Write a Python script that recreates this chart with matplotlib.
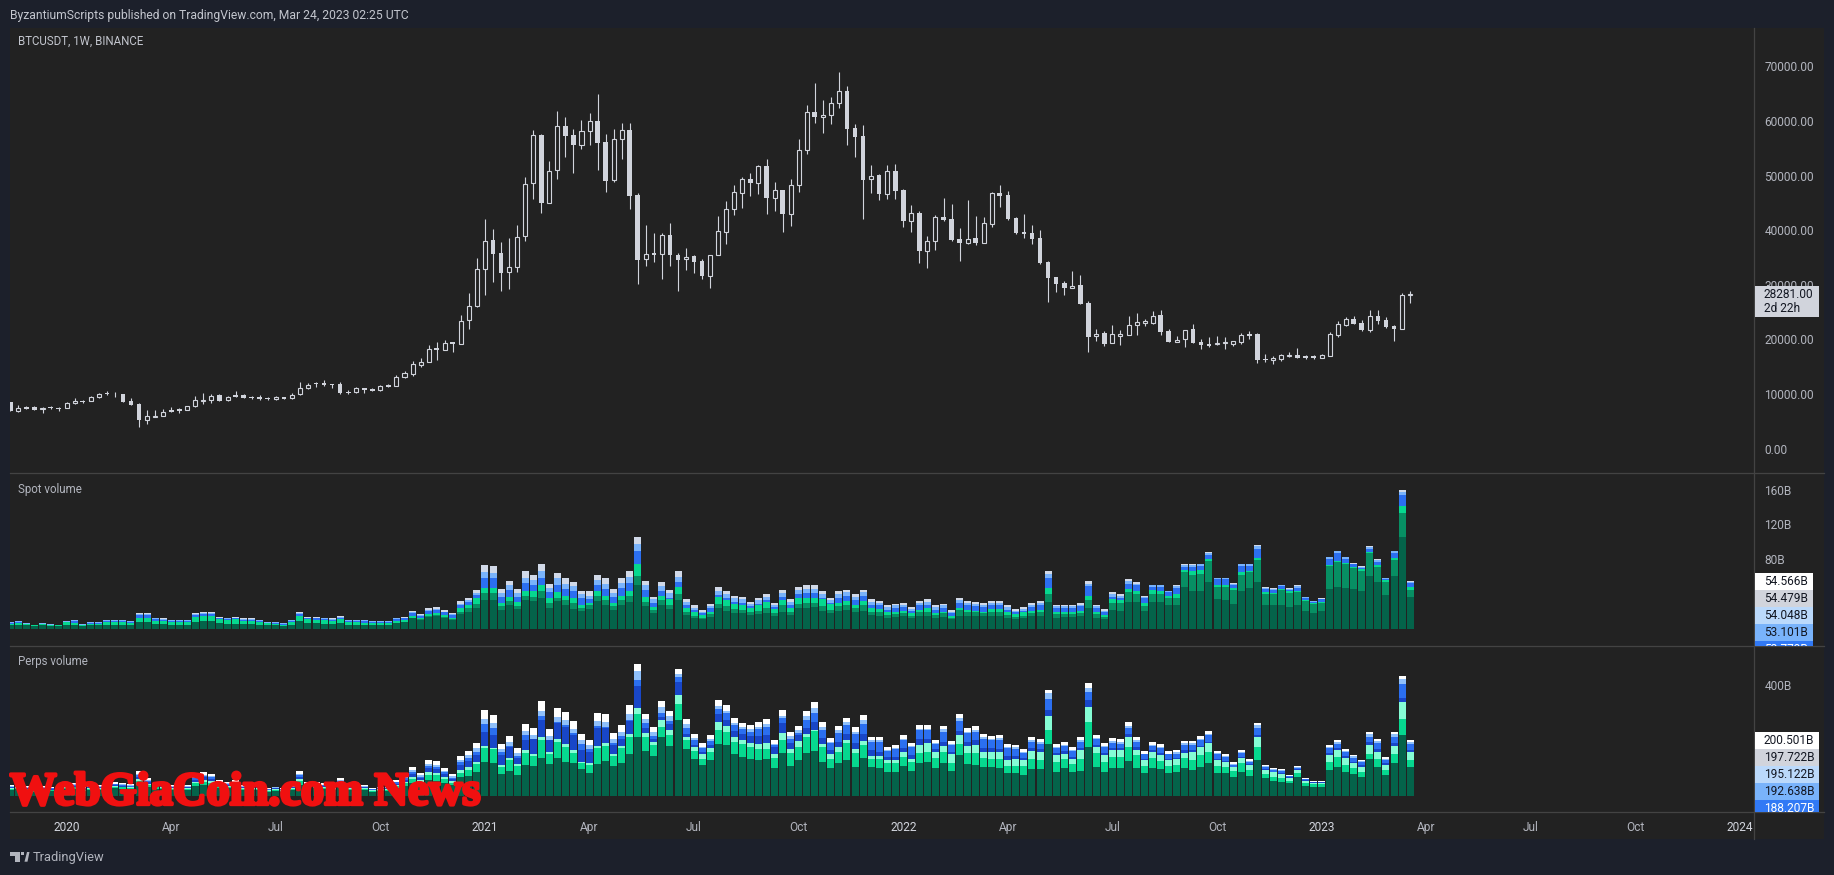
#!/usr/bin/env python3
"""BTCUSDT weekly candles with stacked spot and perps volume panels."""
import numpy as np
import matplotlib; matplotlib.use('Agg')
import matplotlib.pyplot as plt
from matplotlib.patches import Rectangle, Circle, Polygon
from matplotlib.transforms import Bbox
import matplotlib.patheffects as pe

W, H = 1834, 875
PAGE = '#1c202b'; PANEL = '#222222'; LINE = '#434343'; TXT = '#b2b5be'; CANDLE = '#d1d4dc'
plt.rcParams.update({'font.family': 'Roboto', 'font.size': 8.6})

price_open = [
    8553,6965,7637,7576,7210,7576,7454,7393,8309,8736,
    8675,9408,10200,10080,10017,8736,8125,5318,5867,5928,
    7088,7210,7149,7759,8797,8858,9774,8858,9774,9774,
    9469,9469,9285,9041,9408,9225,9956,11056,11972,12033,
    11788,11788,10384,10323,11056,10873,10690,11666,11544,13071,
    13742,15392,15940,18382,18138,19481,19236,23510,26197,32973,
    38162,35781,32301,33217,38895,48601,57393,45061,50982,59102,
    57393,55683,58125,59957,56110,49151,56660,58308,46404,34682,
    35781,35720,39079,35537,34682,35232,34377,31691,35415,39749,
    43840,46892,49334,48723,51715,45976,47320,43046,48235,54645,
    61605,60812,61178,63254,65451,58675,57210,49334,50067,46709,
    50799,47320,41764,43107,36270,37979,42374,42008,38345,37735,
    38528,37735,41215,46770,46404,42191,39627,39444,38528,34194,
    31385,30286,29493,29920,26624,20580,21129,19297,20701,20762,
    22594,23083,23083,24426,21495,19603,20030,21862,19481,19114,
    19114,19297,19176,19603,21007,21007,16428,16306,16489,17038,
    17099,16917,16917,16672,17038,20885,22716,23754,22960,21740,
    24303,23510,22473,21984,28150]
price_high = [
    8553,7972,7759,7759,7576,7820,7698,8553,9285,8980,
    9652,10200,10569,10446,10017,9225,8370,7088,7088,7271,
    7637,7454,7759,9652,10262,9956,9956,9712,10569,10017,
    9712,9835,9408,9591,9408,10200,12216,11972,12216,12582,
    11788,12216,10690,11301,11056,11056,11605,11850,13498,14230,
    16001,16551,18993,19543,19908,19481,24487,28516,34926,42069,
    40237,37857,38590,40970,49762,58369,57637,52692,61849,60750,
    58553,60201,61483,64963,57637,58553,59652,59652,46831,40970,
    39505,39505,41337,35903,36758,35415,34743,35415,42619,45366,
    48235,49762,50494,51959,53058,48846,47320,49395,56721,62948,
    66978,63864,64413,68992,66428,59469,59285,51959,50311,51959,
    52143,47564,44633,43534,38956,42801,45915,44816,40421,45549,
    42619,42436,47014,48296,47197,42436,42985,40970,40055,34377,
    31385,30714,32606,31813,27051,21923,21556,22594,21740,24304,
    24854,23754,25158,25402,21862,20641,21800,22777,20030,20457,
    20641,20519,19664,21129,21556,21129,17344,16977,17283,17710,
    18443,17161,17161,17283,21312,23327,24059,24303,23571,25403,
    25403,24120,22655,28516,28882]
price_low = [
    6965,6782,7271,7088,6599,7332,6965,7393,8248,8431,
    8675,9347,9895,9530,8553,8064,4035,4584,5867,5928,
    6782,6599,7027,7698,8186,8431,8797,8797,9469,9285,
    9102,8980,8980,8980,9163,9163,9895,10995,11301,11483,
    11056,10080,10017,10262,10201,10628,10628,11301,11544,13010,
    13376,15024,15940,16306,18138,17771,19236,21984,25952,28150,
    30592,28943,29249,32423,38101,45793,43229,45061,49456,53424,
    50555,54951,55683,51105,47075,48907,53119,43962,30225,33522,
    34255,31141,33522,28943,32790,32240,31141,29493,35415,37552,
    42863,44145,46343,46648,43046,43595,39749,40848,47075,54035,
    59713,57881,59530,62460,55683,53485,42130,46892,45610,45793,
    45732,40665,39749,34072,33156,36453,41703,38040,34438,37552,
    37368,37735,40665,44328,41947,39322,38651,37552,33888,26929,
    28761,28211,29493,26563,17771,19786,18870,19297,19053,20762,
    20885,22533,22900,20885,19603,19603,18687,19420,18321,18687,
    19053,18321,18870,19176,20152,15757,15879,15573,16062,16733,
    16611,16489,16489,16611,17038,20519,22533,22777,21618,21373,
    22839,22167,19725,21984,26746]
price_close = [
    6965,7391,7332,7149,7515,7393,7332,8309,8675,8614,
    9408,10080,9956,9956,8614,8064,5318,5928,5989,6782,
    6782,6965,7759,8858,8919,9712,8797,9530,9530,9347,
    9285,9163,9041,9408,9163,9895,11056,11727,11788,11727,
    11666,10262,10262,11056,10811,10628,11422,11361,13071,13803,
    15452,15940,18321,18138,19420,19236,23449,26197,32973,38101,
    35720,32240,33217,38834,48541,57393,45061,50921,59041,57332,
    55683,58125,59957,56050,49090,56660,58308,46343,34621,35598,
    35537,39079,35537,34621,35171,34255,31691,35415,39810,43840,
    46953,49334,48662,51715,45976,47320,43046,48235,54645,61605,
    60812,61178,63254,65451,58614,57149,49273,50006,46709,50799,
    47258,41764,43107,36270,37979,42374,41886,38223,37735,38467,
    37674,41276,46770,46343,42130,39566,39383,38467,34072,31324,
    30225,29493,29859,26563,20519,21067,19236,20946,20946,22594,
    23266,23327,24375,21434,19603,19969,21800,19420,18931,18870,
    19420,19481,19664,20762,20701,16245,16306,16611,17099,17222,
    16672,16672,16672,17099,21007,22777,23693,22900,21740,24242,
    23388,22289,21984,28150,28281]

# stacked volume, running tops in billions
spot_dark = [
    4,5,4,3,4,3,3,5,5,3, 4,4,5,5,5,5,8,8,6,6, 5,5,5,8,9,9,7,6,6,6, 6,5,4,4,3,5,9,7,7,6,
    6,7,5,5,5,5,5,5,7,8, 12,10,14,15,13,10,17,20,24,33, 33,22,27,23,33,32,35,24,32,27,
    23,21,23,32,27,22,27,31,50,26, 18,27,23,33,16,13,11,14,24,21, 18,18,16,17,18,15,20,16,24,24,
    25,21,18,21,22,20,21,16,15,13, 14,15,12,15,15,13,14,11,15,15, 15,15,15,15,13,11,13,15,15,31,
    13,14,14,15,24,13,11,22,21,31, 31,21,31,31,28,27,48,44,44,54, 34,33,29,43,47,54,28,27,28,25,
    27,21,18,21,46,48,47,46,44,61,54,39,61,106,37]
spot_mid = [
    4,5,4,3,4,3,3,5,5,3, 4,4,5,5,5,5,8,8,6,6, 5,5,5,8,9,9,7,6,6,6, 6,5,4,4,3,5,9,7,7,6,
    6,7,5,5,5,5,5,5,7,8, 13,11,15,16,14,11,20,24,29,41, 41,26,32,26,38,37,43,30,36,33,
    30,24,27,38,33,26,33,38,61,31, 22,33,27,40,19,15,12,17,29,26, 23,22,19,21,24,18,27,20,29,30,
    30,26,22,26,27,24,27,20,19,16, 17,18,15,19,20,16,18,13,22,19, 19,18,19,19,16,14,15,18,19,40,
    17,17,17,18,33,17,14,30,30,42, 40,26,40,40,36,36,65,62,63,78, 48,48,45,62,65,79,40,40,45,41,
    42,32,29,30,72,77,74,70,67,87,71,54,79,133,45]
spot_bright = [
    6,7,6,4,6,5,4,8,7,5, 6,6,8,8,8,7,13,13,9,9, 8,8,8,14,15,15,11,10,11,9, 9,8,7,6,5,8,15,11,10,10,
    9,11,8,8,7,7,7,7,9,10, 15,12,17,18,16,13,24,28,35,47, 47,30,37,31,44,43,50,35,42,38,
    35,28,30,44,38,30,38,44,75,37, 25,38,34,48,24,20,16,20,37,33, 29,28,24,27,31,23,33,24,35,35,
    35,34,29,30,32,28,32,24,23,19, 20,21,18,22,24,18,20,15,24,22, 21,20,23,23,19,17,19,21,22,47,
    20,20,20,21,38,20,16,34,33,46, 44,30,45,44,38,40,68,66,68,80, 50,50,47,65,67,81,42,41,46,43,
    44,33,30,31,73,78,76,71,69,88,73,56,81,141,48]
spot_blue = [
    7,8,6,4,6,5,4,8,9,5, 7,7,9,9,9,8,16,16,11,10, 9,9,9,16,17,17,12,11,12,10, 10,9,7,7,6,9,17,12,12,11,
    10,13,9,9,9,8,8,8,11,12, 18,15,21,22,19,16,27,31,39,59, 59,37,45,37,53,50,59,42,51,46,
    43,35,34,50,46,37,47,53,90,45, 30,44,36,54,27,22,18,24,39,36, 31,30,26,29,33,25,37,28,40,41,
    41,36,30,36,38,33,38,28,27,22, 24,25,21,27,28,22,24,18,30,27, 26,25,27,27,22,19,21,25,27,59,
    24,24,24,26,49,24,19,37,35,52, 50,35,48,48,42,47,71,71,72,85, 57,57,51,72,72,92,46,45,49,45,
    47,36,31,34,80,87,80,74,70,92,77,57,87,154,53]
spot_light = [
    8,9,7,5,7,6,5,9,10,6, 8,8,10,10,10,9,17,17,12,11, 10,10,10,17,18,18,13,12,13,11, 11,10,8,8,7,10,18,13,13,12,
    11,14,10,10,10,9,9,9,12,13, 19,16,22,23,20,17,29,33,41,65, 64,41,50,41,59,56,67,47,58,52,
    49,40,38,56,52,41,53,60,97,50, 34,49,41,60,31,24,20,26,44,40, 35,34,29,33,37,28,41,31,45,46,
    46,40,33,40,42,37,42,31,30,25, 27,28,23,30,31,25,27,20,33,30, 29,28,30,30,25,21,23,28,30,63,
    26,26,26,28,52,26,21,40,38,55, 52,37,50,50,43,49,73,73,74,87, 58,58,52,74,74,95,47,46,50,46,
    49,37,32,34,82,89,82,75,71,94,79,58,89,157,54]
spot_total = [
    8,9,7,5,7,6,5,9,10,6, 8,8,10,10,10,9,18,18,13,12, 10,10,10,18,20,20,14,13,14,12, 12,10,8,8,7,10,20,14,14,13,
    12,15,10,10,10,9,9,9,13,14, 21,17,24,25,22,18,32,36,45,73, 72,46,55,46,66,62,74,52,64,58,
    54,44,43,62,58,46,59,66,105,55, 37,54,45,66,34,27,22,29,48,44, 38,37,31,36,40,30,45,34,48,50,
    50,43,36,43,45,40,45,34,32,27, 29,30,25,32,34,27,29,22,36,32, 31,30,32,32,27,23,25,30,32,67,
    28,28,28,30,55,28,23,42,40,57, 54,38,51,51,44,50,74,74,75,88, 59,59,53,75,75,96,48,47,51,47,
    50,37,32,35,83,90,83,76,72,95,80,59,90,159,55]

perp_dark = [
    22,25,20,15,20,18,17,24,26,18, 22,22,27,27,26,24,40,32,26,25, 22,22,22,36,40,36,30,28,30,22, 22,22,15,19,15,22,40,28,28,25,
    22,32,22,22,22,15,19,19,30,36, 46,40,56,55,46,38,70,72,88,122, 118,79,90,76,112,109,136,115,136,124,
    118,97,82,114,126,108,118,150,214,163, 144,211,179,274,168,132,112,130,187,183, 153,142,133,130,133,100,154,108,130,154,
    162,124,100,118,130,106,136,103,100,88, 88,108,91,120,124,102,120,90,148,115, 112,103,106,100,82,82,76,97,97,187,
    88,100,88,90,178,106,88,102,102,126, 102,84,102,97,82,88,100,94,106,118, 84,84,70,88,72,130,64,55,52,46,
    67,36,34,34,94,106,88,79,67,132,103,76,118,220,106]
perp_bright = [
    26,30,24,18,24,21,20,29,32,21, 26,26,33,33,32,29,54,40,32,30, 26,26,26,46,52,48,37,34,37,26, 26,26,18,22,18,26,54,34,34,30,
    26,40,26,26,26,18,22,22,37,46, 62,50,76,74,60,48,84,94,114,172, 168,106,130,108,156,144,202,151,196,178,
    156,118,113,172,180,144,172,214,295,214, 184,250,220,331,202,163,132,160,238,230, 196,186,175,168,168,136,202,154,178,214,
    235,175,132,158,190,156,184,132,132,118, 120,139,124,154,160,136,157,120,186,154, 154,136,132,132,108,108,108,133,130,238,
    122,133,115,132,265,154,124,139,139,175, 148,108,136,127,108,112,136,130,148,160, 108,103,91,118,94,175,79,70,64,54,
    82,46,42,42,124,139,112,100,88,151,132,94,151,277,130]
perp_mint = [
    28,32,25,20,25,22,21,31,34,22, 28,28,35,35,34,31,60,45,34,32, 28,28,28,52,58,54,40,36,40,28, 28,28,20,24,20,28,60,36,36,32,
    28,44,28,28,28,20,24,24,40,52, 70,56,85,84,68,54,92,104,124,180, 174,112,136,114,165,152,212,158,206,188,
    164,124,118,180,190,150,180,225,317,226, 196,274,238,364,212,178,151,173,267,252, 214,202,192,187,190,150,228,168,199,223,
    238,187,150,175,202,170,198,145,145,128, 128,158,135,185,190,160,180,150,220,180, 185,158,158,158,130,132,130,162,158,288,
    148,152,135,165,320,175,148,165,165,212, 165,128,158,148,128,132,155,158,175,190, 130,122,103,138,112,212,95,85,80,65,
    95,55,48,48,148,166,138,118,105,185,160,112,180,339,158]
perp_dkblue = [
    31,36,28,22,28,25,23,34,37,25, 31,31,39,39,37,34,70,50,37,36, 31,31,31,59,67,62,45,41,45,31, 31,31,22,27,22,31,70,41,41,36,
    31,50,31,31,31,22,27,27,45,59, 81,65,101,98,79,62,110,125,148,232, 220,148,178,137,202,204,274,202,264,247,
    220,166,160,244,244,185,205,270,396,245, 205,285,260,410,225,185,160,185,295,275, 235,225,215,215,220,175,262,190,220,245,
    265,210,165,195,222,190,225,165,160,140, 140,172,148,205,205,170,195,160,235,195, 200,172,172,170,145,145,138,172,170,310,
    155,162,142,172,345,182,155,172,172,222, 175,135,165,155,135,138,165,165,180,195, 135,126,106,142,116,220,98,88,83,67,
    98,56,49,49,155,172,145,124,110,195,170,118,190,352,165]
perp_blue = [
    34,39,30,24,30,27,25,37,40,27, 34,34,42,42,40,37,76,54,40,39, 34,34,34,64,72,67,49,44,49,34, 34,34,24,29,24,34,76,44,44,39,
    34,54,34,34,34,24,29,29,49,64, 87,70,109,106,85,66,121,136,160,261, 245,158,181,145,218,206,287,202,266,255,
    227,187,170,251,248,191,215,275,418,262, 215,300,272,430,245,200,172,198,315,298, 255,240,232,240,250,182,280,207,228,275,
    300,238,190,228,255,222,258,195,195,162, 168,200,175,236,236,186,230,182,270,226, 232,205,200,203,172,170,155,195,188,350,
    172,180,162,196,376,205,176,192,189,245, 196,150,180,172,150,153,185,184,200,218, 150,140,113,155,124,245,104,94,90,71,
    100,60,50,50,172,189,157,138,121,214,190,130,214,402,188]
perp_light = [
    36,41,32,25,32,29,27,40,43,29, 36,36,45,45,43,40,81,58,43,41, 36,36,36,68,77,72,52,47,52,36, 36,36,25,31,25,36,81,47,47,41,
    36,58,36,36,36,25,31,31,52,68, 94,75,117,113,91,71,130,146,172,279, 262,169,194,156,233,220,308,217,285,273,
    243,201,182,269,266,204,230,294,450,277, 232,320,287,440,258,208,178,205,325,308, 263,248,240,250,260,188,290,215,236,287,
    318,250,196,236,265,232,275,200,200,165, 172,207,180,240,240,190,240,186,280,232, 238,212,205,208,176,175,160,200,193,370,
    177,184,166,202,390,210,181,197,194,254, 202,153,185,178,153,157,190,190,206,225, 155,145,117,160,127,255,108,97,93,73,
    104,62,52,52,178,195,162,143,125,222,197,135,222,420,195]
perp_total = [
    40,46,36,28,36,32,30,44,48,32, 40,40,50,50,48,44,90,64,48,46, 40,40,40,76,86,80,58,52,58,40, 40,40,28,34,28,40,90,52,52,46,
    40,64,40,40,40,28,34,34,58,76, 104,83,130,126,101,79,144,162,191,310, 292,188,216,173,259,245,342,241,317,303,
    270,223,202,299,295,227,256,327,475,295, 248,342,306,457,277,223,191,220,346,328, 281,263,256,266,277,202,310,230,252,306,
    339,266,209,252,281,248,292,212,212,176, 184,220,191,256,256,202,252,198,295,245, 252,223,216,220,187,184,169,212,205,382,
    187,194,176,212,407,220,191,209,205,266, 212,162,194,187,162,166,198,198,216,234, 162,151,122,166,133,263,112,101,97,76,
    108,65,54,54,184,202,169,148,130,230,205,140,230,432,202]

time_ticks = [7,20,33,46,59,72,85,98,111,124,137,150,163,176,189,202,215]
time_labels = ['2020','Apr','Jul','Oct','2021','Apr','Jul','Oct','2022','Apr','Jul','Oct','2023','Apr','Jul','Oct','2024']
price_ticks = [0,10000,20000,30000,40000,50000,60000,70000]
spot_ticks = [80,120,160]
perp_ticks = [400]
spot_last = ['54.566B','54.479B','54.048B','53.101B','52.773B']
perp_last = ['200.501B','197.722B','195.122B','192.638B','188.207B']
last_fill = ['#ffffff','#d1d4dc','#bbd9fb','#79b3fb','#3179f5']
last_ink = ['#131722','#131722','#131722','#131722','#ffffff']

def rect(x0,y0,x1,y1):
    return [x0/W, 1-y1/H, (x1-x0)/W, (y1-y0)/H]
def fx(x): return x/W
def fy(y): return 1-y/H

fig = plt.figure(figsize=(W/100,H/100), dpi=100, facecolor=PAGE)
fig.add_artist(Rectangle((fx(10),fy(839)), (1824-10)/W, (839-28)/H, transform=fig.transFigure, fc=PANEL, ec='none', zorder=-5))

XL = (-0.04, 216.75)
ax_p = fig.add_axes(rect(10,28,1754,473), facecolor=PANEL)
ax_s = fig.add_axes(rect(10,473,1754,646), facecolor=PANEL)
ax_v = fig.add_axes(rect(10,646,1754,812), facecolor=PANEL)
x = np.arange(len(price_close))

# candles
o,h,l,c = map(np.array,(price_open,price_high,price_low,price_close))
up = c>=o
ax_p.vlines(x,l,h,color=CANDLE,lw=0.8,zorder=2)
ax_p.bar(x[~up],(o-c)[~up],bottom=c[~up],width=0.58,color=CANDLE,lw=0,zorder=3)
ax_p.bar(x[up],(c-o)[up],bottom=o[up],width=0.5,facecolor=PANEL,edgecolor=CANDLE,lw=0.8,zorder=3)
ax_p.set_ylim(-4451,77051)
ax_p.set_yticks(price_ticks,[f'{t:.2f}' for t in price_ticks])

def stack(ax,tops,colors):
    bot = np.zeros(len(x))
    for t,col in zip(tops,colors):
        t = np.array(t,dtype=float)
        ax.bar(x,t-bot,bottom=bot,width=0.87,color=col,lw=0)
        bot = t

stack(ax_s,[spot_dark,spot_mid,spot_bright,spot_blue,spot_light,spot_total],
      ['#04634a','#078f63','#06d88f','#2b6ff0','#79b3fb','#d1d9e8'])
ax_s.set_ylim(-19.6,179)
ax_s.set_yticks(spot_ticks,[f'{t}B' for t in spot_ticks])
stack(ax_v,[perp_dark,perp_bright,perp_mint,perp_dkblue,perp_blue,perp_light,perp_total],
      ['#04634a','#06d88f','#85fdd5','#1846c8','#2b6ff0','#8fc0fb','#ffffff'])
ax_v.set_ylim(-57.7,540.5)
ax_v.set_yticks(perp_ticks,[f'{t}B' for t in perp_ticks])

for ax in (ax_p,ax_s,ax_v):
    ax.set_xlim(*XL)
    for s in ax.spines.values(): s.set_visible(False)
    ax.yaxis.tick_right()
    ax.tick_params(axis='y',length=0,pad=7.5,labelcolor=TXT,labelsize=8.6)
    ax.tick_params(axis='x',length=0)
    ax.set_xticks([])
ax_v.set_xticks(time_ticks,time_labels)
ax_v.tick_params(axis='x',pad=6.5,labelsize=8.6)
for t,lab in zip(ax_v.get_xticklabels(),time_labels):
    t.set_color('#d1d4dc' if lab.isdigit() else TXT)

# separators
for yy in (473,646,812):
    fig.add_artist(plt.Line2D([fx(10),fx(1824)],[fy(yy)]*2,color=LINE,lw=0.9))
fig.add_artist(plt.Line2D([fx(1754)]*2,[fy(28),fy(839)],color=LINE,lw=0.9))

# last value tags on the scale
def tags(labels,ytop,x1s,ybot):
    for i,(lab,fc,ink) in enumerate(zip(labels,last_fill,last_ink)):
        y0 = ytop+17*i
        y1 = min(y0+17,ybot)
        x1 = x1s
        fig.add_artist(Rectangle((fx(1754.5),fy(y1)),(x1-1754.5)/W,(y1-y0)/H,transform=fig.transFigure,fc=fc,ec='none',zorder=5))
        t = fig.text(fx(1764),fy(y0+8.5),lab,color=ink,fontsize=8.6,va='center',ha='left',zorder=6)
        t.set_clip_on(True)
        t.set_clip_box(Bbox.from_extents(1754,H-ybot,1824,H-y0))
tags(spot_last,573,1813,646)
tags(perp_last,732,1819,812)

# current price tag
fig.add_artist(Rectangle((fx(1754.5),fy(316.7)),(1819-1754.5)/W,(316.7-286)/H,transform=fig.transFigure,fc='#d1d4dc',ec='none',zorder=5))
fig.text(fx(1764),fy(295),'28281.00',color='#131722',fontsize=8.6,va='center',zorder=6)
fig.text(fx(1764),fy(309),'2d 22h',color='#131722',fontsize=8.6,va='center',zorder=6)

# captions
fig.text(fx(10),fy(15),'ByzantiumScripts published on TradingView.com, Mar 24, 2023 02:25 UTC',color='#c3c6ce',fontsize=8.7,va='center')
fig.text(fx(18),fy(41.5),'BTCUSDT, 1W, BINANCE',color='#c3c6ce',fontsize=8.3,va='center')
fig.text(fx(18),fy(489),'Spot volume',color='#b2b5be',fontsize=8.3,va='center')
fig.text(fx(18),fy(662),'Perps volume',color='#b2b5be',fontsize=8.3,va='center')
fig.text(fx(33),fy(857),'TradingView',color='#b2b5be',fontsize=9.3,va='center')

# TradingView mark
fig.add_artist(Rectangle((fx(10),fy(855.5)),9.5/W,3.5/H,transform=fig.transFigure,fc='#b2b5be',ec='none'))
fig.add_artist(Rectangle((fx(15),fy(861.7)),4.5/W,9.7/H,transform=fig.transFigure,fc='#b2b5be',ec='none'))
fig.add_artist(Polygon([(fx(24.5),fy(861.7)),(fx(27),fy(852)),(fx(29.5),fy(852)),(fx(27.5),fy(861.7))],transform=fig.transFigure,fc='#b2b5be',ec='none'))
fig.add_artist(Rectangle((fx(20.5),fy(855)),3/W,3/H,transform=fig.transFigure,fc='#b2b5be',ec='none'))

# site watermark
wm = fig.text(fx(10),fy(804.5),'WebGiaCoin.com News',color='#f01010',fontsize=33.5,fontfamily='Liberation Serif',
              fontweight='bold',va='baseline',ha='left',zorder=20)
wm.set_path_effects([pe.withStroke(linewidth=2.4,foreground='#f01010')])

fig.savefig('out.png',dpi=100,facecolor=PAGE)
